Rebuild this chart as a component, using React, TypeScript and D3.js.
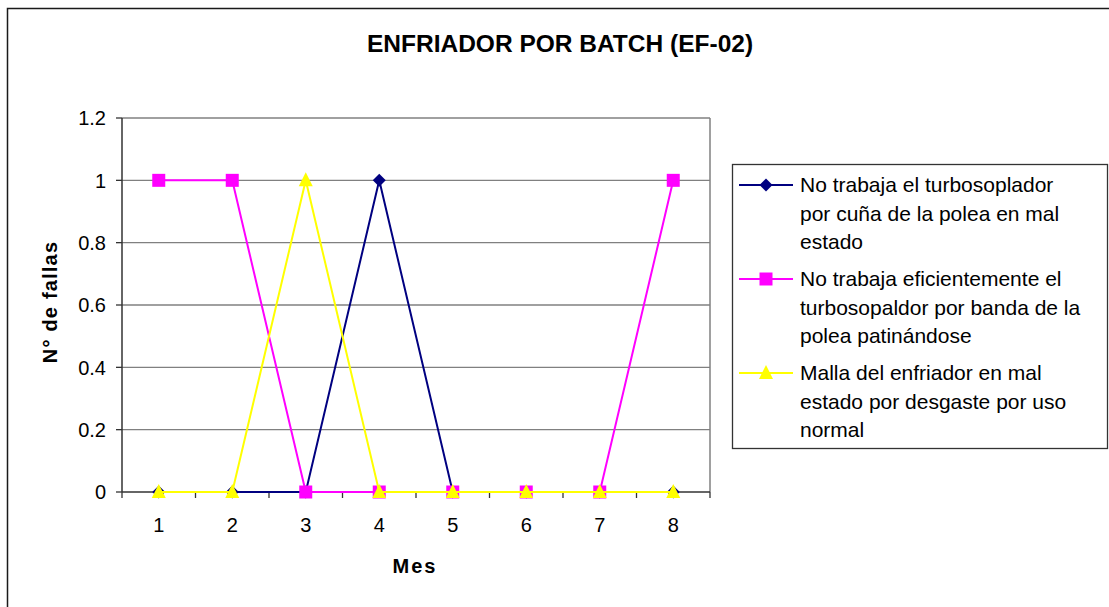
import React, { useEffect, useRef } from "react";
import * as d3 from "d3";

const months = [1, 2, 3, 4, 5, 6, 7, 8];
const cunaPolea = [0, 0, 0, 1, 0, 0, 0, 0];
const bandaPolea = [1, 1, 0, 0, 0, 0, 0, 1];
const mallaEnfriador = [0, 0, 1, 0, 0, 0, 0, 0];
const yTicks = [0, 0.2, 0.4, 0.6, 0.8, 1, 1.2];

const seriesNames = [
  ["No trabaja el turbosoplador", "por cuña de la polea en mal", "estado"],
  ["No trabaja eficientemente el", "turbosopaldor por banda de la", "polea patinándose"],
  ["Malla del enfriador en mal", "estado por desgaste por uso", "normal"],
];

const App = () => {
  const svgRef = useRef(null);
  const width = 1109;
  const height = 607;

  useEffect(() => {
    const font = "'Liberation Sans', Arial, sans-serif";
    const svg = d3.select(svgRef.current);
    svg.selectAll("*").remove();

    const left = 122, right = 710, top = 118, bottom = 492;

    const band = d3.scaleBand().domain(months.map(String)).range([left, right]);
    const x = (m) => band(String(m)) + band.bandwidth() / 2;
    const y = d3.scaleLinear().domain([0, 1.2]).range([bottom, top]);

    // outer chart frame
    svg.append("rect")
      .attr("x", 7.5).attr("y", 8.5)
      .attr("width", 1120).attr("height", 620)
      .attr("fill", "white").attr("stroke", "#1a1a1a").attr("stroke-width", 1.5);

    svg.append("text")
      .attr("x", 560).attr("y", 52)
      .attr("text-anchor", "middle")
      .style("font", `bold 24.5px ${font}`)
      .text("ENFRIADOR POR BATCH (EF-02)");

    // gridlines
    svg.append("g")
      .selectAll("line")
      .data(yTicks.filter((t) => t > 0))
      .join("line")
      .attr("x1", left).attr("x2", right)
      .attr("y1", (d) => y(d)).attr("y2", (d) => y(d))
      .attr("stroke", "#808080").attr("stroke-width", 1.3);

    svg.append("line")
      .attr("x1", right).attr("x2", right)
      .attr("y1", top).attr("y2", bottom)
      .attr("stroke", "#808080").attr("stroke-width", 1.5);

    // y axis
    const yAxis = svg.append("g");
    yAxis.append("line")
      .attr("x1", left).attr("x2", left).attr("y1", top).attr("y2", bottom)
      .attr("stroke", "#333").attr("stroke-width", 1.5);
    yAxis.selectAll(".tk")
      .data(yTicks)
      .join("line")
      .attr("class", "tk")
      .attr("x1", left - 6).attr("x2", left)
      .attr("y1", (d) => y(d)).attr("y2", (d) => y(d))
      .attr("stroke", "#333").attr("stroke-width", 1.3);
    yAxis.selectAll("text")
      .data(yTicks)
      .join("text")
      .attr("x", 106).attr("y", (d) => y(d))
      .attr("dy", "0.36em")
      .attr("text-anchor", "end")
      .style("font", `20px ${font}`)
      .text((d) => d3.format("~g")(d));

    // x axis
    const xAxis = svg.append("g");
    xAxis.append("line")
      .attr("x1", left).attr("x2", right).attr("y1", bottom).attr("y2", bottom)
      .attr("stroke", "#333").attr("stroke-width", 1.5);
    const edges = months.map((m) => band(String(m))).concat([right]);
    xAxis.selectAll(".tk")
      .data(edges)
      .join("line")
      .attr("class", "tk")
      .attr("x1", (d) => d).attr("x2", (d) => d)
      .attr("y1", bottom).attr("y2", bottom + 6)
      .attr("stroke", "#333").attr("stroke-width", 1.3);
    xAxis.selectAll("text")
      .data(months)
      .join("text")
      .attr("x", (d) => x(d)).attr("y", 532)
      .attr("text-anchor", "middle")
      .style("font", `20px ${font}`)
      .text((d) => d);

    svg.append("text")
      .attr("x", 415).attr("y", 573)
      .attr("text-anchor", "middle")
      .style("font", `bold 20px ${font}`)
      .style("letter-spacing", "2px")
      .text("Mes");

    svg.append("text")
      .attr("transform", "translate(57,302) rotate(-90)")
      .attr("text-anchor", "middle")
      .style("font", `bold 20px ${font}`)
      .style("letter-spacing", "1.2px")
      .text("N° de fallas");

    const series = [
      { values: cunaPolea, color: "#000080", shape: "diamond" },
      { values: bandaPolea, color: "#FF00FF", shape: "square" },
      { values: mallaEnfriador, color: "#FFFF00", shape: "triangle" },
    ];

    const markerPath = (shape) => {
      if (shape === "diamond") return "M0,-6.5L6.5,0L0,6.5L-6.5,0Z";
      if (shape === "square") return "M-6.5,-6.5H6.5V6.5H-6.5Z";
      return "M0,-8L7,6L-7,6Z";
    };

    const line = d3.line().x((d, i) => x(months[i])).y((d) => y(d));

    series.forEach((s) => {
      const g = svg.append("g");
      g.append("path")
        .attr("d", line(s.values))
        .attr("fill", "none")
        .attr("stroke", s.color)
        .attr("stroke-width", 2);
      g.selectAll("path.m")
        .data(s.values)
        .join("path")
        .attr("class", "m")
        .attr("transform", (d, i) => `translate(${x(months[i])},${y(d)})`)
        .attr("d", markerPath(s.shape))
        .attr("fill", s.color);
    });

    // legend
    const legend = svg.append("g");
    legend.append("rect")
      .attr("x", 732.5).attr("y", 164.5)
      .attr("width", 375).attr("height", 284)
      .attr("fill", "white").attr("stroke", "#333").attr("stroke-width", 1.3);

    series.forEach((s, i) => {
      const base = 192 + i * 94;
      const ly = base - 7;
      legend.append("line")
        .attr("x1", 739).attr("x2", 793).attr("y1", ly).attr("y2", ly)
        .attr("stroke", s.color).attr("stroke-width", 2);
      legend.append("path")
        .attr("transform", `translate(766,${ly})`)
        .attr("d", markerPath(s.shape))
        .attr("fill", s.color);
      legend.append("text")
        .attr("x", 800).attr("y", base)
        .style("font", `21px ${font}`)
        .selectAll("tspan")
        .data(seriesNames[i])
        .join("tspan")
        .attr("x", 800)
        .attr("dy", (d, j) => (j === 0 ? 0 : 28.5))
        .text((d) => d);
    });
  }, []);

  return (
    <svg
      ref={svgRef}
      width={width}
      height={height}
      viewBox={`0 0 ${width} ${height}`}
      style={{ position: "absolute", left: 0, top: 0 }}
    ></svg>
  );
};

export default App;
